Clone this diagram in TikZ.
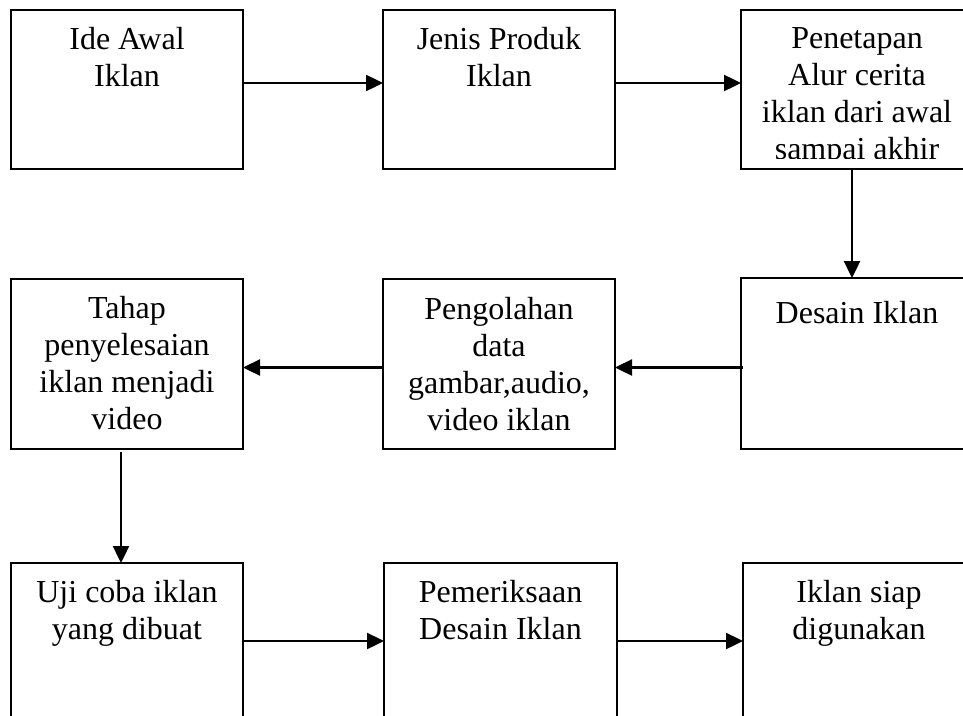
\documentclass[tikz,border=0pt]{standalone}
\usepackage{fontspec}
\setmainfont{Liberation Serif}
\usetikzlibrary{arrows.meta,calc}
\tikzset{
  box/.style={draw, line width=2.3pt, inner sep=0pt, outer sep=0pt, minimum width=232pt},
  lbl/.style={anchor=north, align=center, inner sep=0pt, font=\fontsize{32}{37}\selectfont, execute at begin node=\strut},
  arr/.style={line width=2.4pt, -{Triangle[length=17pt,width=16pt]}}
}
\begin{document}
\begin{tikzpicture}[x=1pt,y=-1pt]
\useasboundingbox (0,0) rectangle (963,715);
\clip (0,0) rectangle (963,715);
\fill[white] (0,0) rectangle (963,715);
% boxes
\node[box, minimum height=159pt] (b1) at (127,89.5) {};
\node[box, minimum height=159pt] (b2) at (499,89.5) {};
\node[box, minimum height=159pt] (b3) at (857,89.5) {};
\node[box, minimum height=170pt] (b4) at (127,364) {};
\node[box, minimum height=170pt] (b5) at (499,364) {};
\node[box, minimum height=171pt] (b6) at (857,363.5) {};
\node[box, minimum height=180pt] (b7) at (127,653) {};
\node[box, minimum height=180pt, minimum width=233pt] (b8) at (500.5,653) {};
\node[box, minimum height=180pt] (b9) at (859,653) {};
% texts
\node[lbl] (t1) at ($(b1.north)+(0,17)$) {Ide Awal\\Iklan};
\node[lbl] (t2) at ($(b2.north)+(0,17)$) {Jenis Produk\\Iklan};
\begin{scope}
\clip (741,10) rectangle (973,158.5);
\node[lbl] (t3) at ($(b3.north)+(0,17)$) {Penetapan\\Alur cerita\\iklan dari awal\\sampai akhir};
\end{scope}
\node[lbl] (t4) at ($(b4.north)+(0,17)$) {Tahap\\penyelesaian\\iklan menjadi\\video};
\node[lbl] (t5) at ($(b5.north)+(0,18)$) {Pengolahan\\data\\gambar,audio,\\video iklan};
\node[lbl] (t6) at ($(b6.north)+(0,19)$) {Desain Iklan};
\node[lbl] (t7) at ($(b7.north)+(0,17)$) {Uji coba iklan\\yang dibuat};
\node[lbl] (t8) at ($(b8.north)+(0,17)$) {Pemeriksaan\\Desain Iklan};
\node[lbl] (t9) at ($(b9.north)+(0,17)$) {Iklan siap\\digunakan};
% connector levels
\coordinate (r1) at (0,83);
\coordinate (r2) at (0,367.5);
\coordinate (r3) at (0,641);
\coordinate (c1) at (852,0);
\coordinate (c2) at (121,0);
% connectors
\draw[arr] (b1.east |- r1) -- (b2.west |- r1);
\draw[arr] (b2.east |- r1) -- (b3.west |- r1);
\draw[arr] (b3.south -| c1) -- (b6.north -| c1);
\draw[arr] ($(b6.west |- r2)+(2,0)$) -- (b5.east |- r2);
\draw[arr] (b5.west |- r2) -- (b4.east |- r2);
\draw[arr] ($(b4.south -| c2)+(0,3)$) -- (b7.north -| c2);
\draw[arr] (b7.east |- r3) -- (b8.west |- r3);
\draw[arr] (b8.east |- r3) -- (b9.west |- r3);
\end{tikzpicture}
\end{document}
